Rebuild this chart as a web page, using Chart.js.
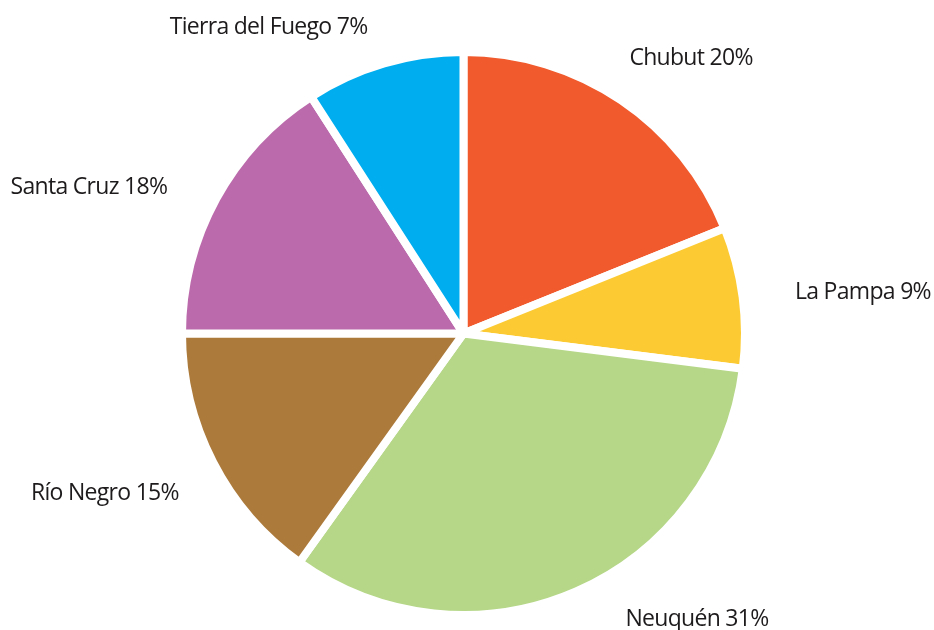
<!DOCTYPE html>
<html>
<head>
<meta charset="utf-8">
<script src="https://cdn.jsdelivr.net/npm/chart.js@4/dist/chart.umd.min.js"></script>
<style>
  html, body { margin: 0; padding: 0; background: #ffffff; }
  #wrap { width: 934px; height: 630px; position: relative; }
</style>
</head>
<body>
<div id="wrap"><canvas id="c" width="934" height="630"></canvas></div>
<script>
// Categories (clockwise from 12 o'clock)
const regions = ["Chubut", "La Pampa", "Neuquén", "Río Negro", "Santa Cruz", "Tierra del Fuego"];
// Slice shares as drawn in the picture (measured angles, %)
const sliceShares = [18.9, 8.1, 32.9, 15.1, 15.9, 9.1];
// Percent labels as printed in the picture
const labelPercents = [20, 9, 31, 15, 18, 7];
const sliceColors = ["#F05A2C", "#FCCB33", "#B5D787", "#AC7A3B", "#BB6BAB", "#00AEEF"];

// Label placement (style): angular nudge from slice middle (deg), distance as multiple of radius
const labelLayout = [
  { nudge: 5.6, dist: 1.286 },
  { nudge: 1.5, dist: 1.447 },
  { nudge: -15.7, dist: 1.329 },
  { nudge: 3.15, dist: 1.415 },
  { nudge: -7.3, dist: 1.449 },
  { nudge: -16.1, dist: 1.308 }
];

const outsideLabels = {
  id: 'outsideLabels',
  afterDraw(chart) {
    const ctx = chart.ctx;
    const meta = chart.getDatasetMeta(0);
    ctx.save();
    ctx.font = '23px "Open Sans"';
    ctx.fillStyle = '#1E1B1C';
    ctx.textAlign = 'center';
    ctx.textBaseline = 'middle';
    try { ctx.letterSpacing = '-0.7px'; } catch (e) {}
    meta.data.forEach((arc, i) => {
      const p = arc.getProps(['x', 'y', 'startAngle', 'endAngle', 'outerRadius'], true);
      const mid = (p.startAngle + p.endAngle) / 2 + labelLayout[i].nudge * Math.PI / 180;
      const r = (p.outerRadius - 4) * labelLayout[i].dist;
      const x = p.x + r * Math.cos(mid);
      const y = p.y + r * Math.sin(mid);
      ctx.fillText(regions[i] + ' ' + labelPercents[i] + '%', x, y);
    });
    ctx.restore();
  }
};

new Chart(document.getElementById('c'), {
  type: 'pie',
  data: {
    labels: regions,
    datasets: [{
      data: sliceShares,
      backgroundColor: sliceColors,
      borderColor: '#ffffff',
      borderWidth: 8,
      borderAlign: 'center',
      hoverOffset: 0
    }]
  },
  options: {
    responsive: false,
    animation: false,
    layout: { padding: { top: 48, bottom: 11, left: 0, right: 7 } },
    plugins: {
      legend: { display: false },
      tooltip: { enabled: false }
    }
  },
  plugins: [outsideLabels]
});
</script>
</body>
</html>
